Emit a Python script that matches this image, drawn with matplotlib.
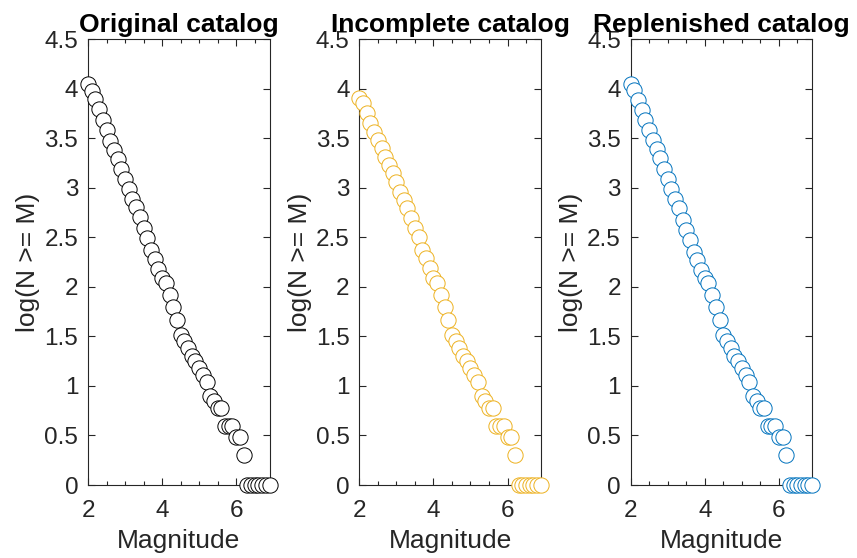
import matplotlib
matplotlib.use('Agg')
import matplotlib.pyplot as plt
from matplotlib.ticker import MultipleLocator

plt.rcParams['font.family'] = ['Liberation Sans', 'DejaVu Sans']

# magnitude bins (0.1 step)
mags = [2.0, 2.1, 2.2, 2.3, 2.4, 2.5, 2.6, 2.7, 2.8, 2.9,
        3.0, 3.1, 3.2, 3.3, 3.4, 3.5, 3.6, 3.7, 3.8, 3.9,
        4.0, 4.1, 4.2, 4.3, 4.4, 4.5, 4.6, 4.7, 4.8, 4.9,
        5.0, 5.1, 5.2, 5.3, 5.4, 5.5, 5.6, 5.7, 5.8, 5.9,
        6.0, 6.1, 6.2, 6.3, 6.4, 6.5, 6.6, 6.7, 6.8, 6.9]

# log10 of cumulative counts
tail = [2.09, 2.04, 1.92, 1.80, 1.66, 1.51, 1.45, 1.38, 1.30, 1.25,
        1.18, 1.11, 1.04, 0.90, 0.85, 0.78, 0.78, 0.60, 0.60, 0.60,
        0.48, 0.48, 0.30, 0, 0, 0, 0, 0, 0, 0]

orig_head = [4.05, 3.98, 3.89, 3.79, 3.68, 3.58, 3.47, 3.38, 3.29, 3.19,
             3.09, 2.99, 2.89, 2.80, 2.70, 2.59, 2.49, 2.37, 2.28, 2.18]
incomp_head = [3.90, 3.85, 3.75, 3.65, 3.56, 3.48, 3.40, 3.31, 3.23, 3.15,
               3.06, 2.96, 2.88, 2.79, 2.69, 2.59, 2.50, 2.37, 2.29, 2.19]
repl_head = [4.05, 3.99, 3.88, 3.78, 3.68, 3.58, 3.48, 3.39, 3.30, 3.19,
             3.09, 2.99, 2.89, 2.79, 2.67, 2.57, 2.47, 2.35, 2.27, 2.17]

original = orig_head + tail
incomplete = incomp_head + tail
replenished = repl_head + tail

titles = ['Original catalog', 'Incomplete catalog', 'Replenished catalog']
colors = ['black', '#EDB120', '#0072BD']
series = [original, incomplete, replenished]

fig = plt.figure(figsize=(8.57, 5.58), dpi=100)
lefts = [0.1027, 0.4193, 0.7359]
axc = '#262626'

for i in range(3):
    ax = fig.add_axes([lefts[i], 0.1308, 0.2118, 0.7993])
    ax.plot(mags, series[i], 'o', ms=11, mfc='white', mec=colors[i],
            mew=0.7, clip_on=False, zorder=3)
    ax.set_xlim(2, 6.9)
    ax.set_ylim(0, 4.5)
    ax.set_xticks([2, 4, 6])
    ax.set_xticklabels(['2', '4', '6'])
    ax.xaxis.set_minor_locator(MultipleLocator(0.5))
    yt = [0, 0.5, 1, 1.5, 2, 2.5, 3, 3.5, 4, 4.5]
    ax.set_yticks(yt)
    ax.set_yticklabels(['0', '0.5', '1', '1.5', '2', '2.5', '3', '3.5', '4', '4.5'])
    ax.tick_params(which='both', direction='in', top=True, right=True,
                   colors=axc, labelsize=17.5, width=0.8)
    ax.tick_params(which='major', length=5)
    ax.tick_params(axis='y', pad=7)
    ax.tick_params(axis='x', pad=11)
    ax.tick_params(which='minor', length=3)
    for s in ax.spines.values():
        s.set_color(axc)
        s.set_linewidth(0.8)
    ax.set_title(titles[i], fontsize=19, fontweight='bold', pad=5)
    ax.set_xlabel('Magnitude', fontsize=19, color=axc, labelpad=5)
    ax.set_ylabel('log(N >= M)', fontsize=19, color=axc, labelpad=3)

fig.savefig('out.png', dpi=100)
